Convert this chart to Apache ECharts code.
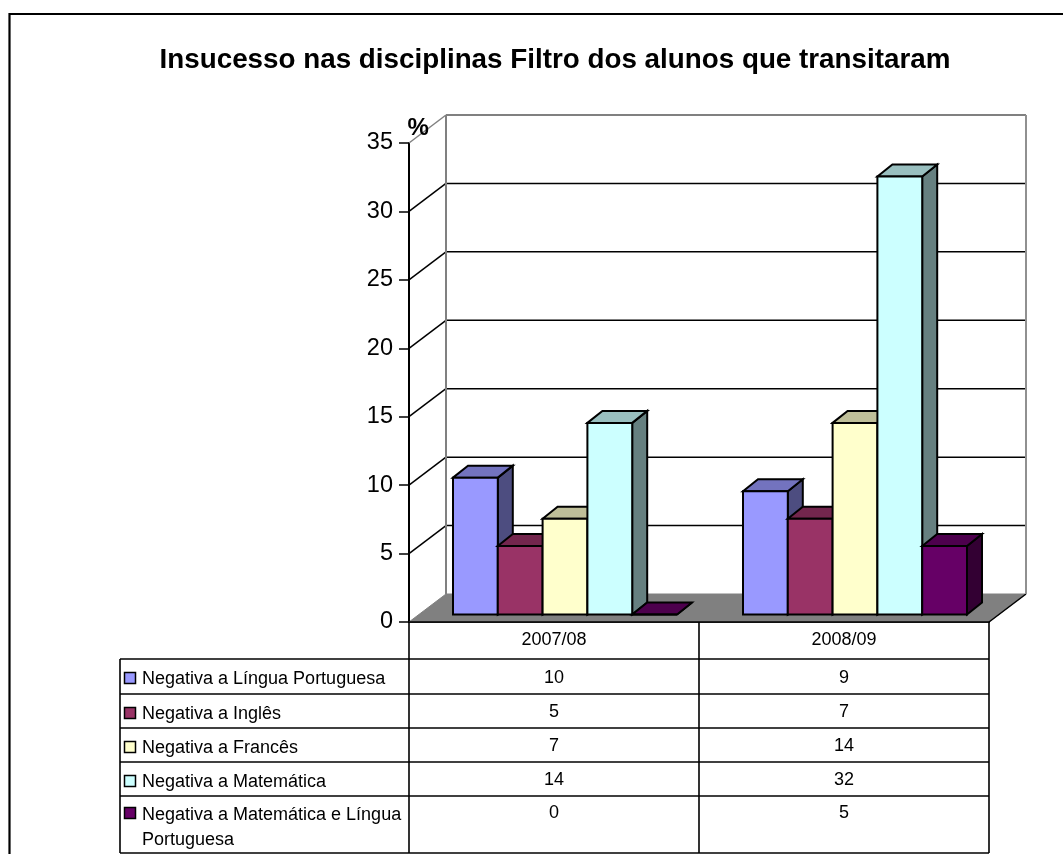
<!DOCTYPE html>
<html><head><meta charset="utf-8">
<script src="https://cdn.jsdelivr.net/npm/echarts@6/dist/echarts.min.js"></script>
<style>html,body{margin:0;padding:0;background:#fff}#c{width:1063px;height:854px}</style>
</head><body><div id="c"></div>
<script>
const titleText = 'Insucesso nas disciplinas Filtro dos alunos que transitaram';
const categories = ['2007/08', '2008/09'];
const seriesNames = ['Negativa a Língua Portuguesa', 'Negativa a Inglês', 'Negativa a Francês', 'Negativa a Matemática', 'Negativa a Matemática e Língua\nPortuguesa'];
const lingua = [10, 9];
const ingles = [5, 7];
const frances = [7, 14];
const matematica = [14, 32];
const matLingua = [0, 5];
const gridTicks = [0, 5, 10, 15, 20, 25, 30, 35];
const frontColors = ['#9999FF', '#993366', '#FFFFCC', '#CCFFFF', '#660066'];
const topColors = ['#7373BF', '#73264D', '#BFBF99', '#99BFBF', '#4D004D'];
const sideColors = ['#4D4D80', '#4D1A33', '#808066', '#668080', '#330033'];
const allValues = [lingua, ingles, frances, matematica, matLingua];

const FONT = '"Liberation Sans", Arial, sans-serif';
const WALL = [37, -28], DEPTH = [15, -12], INSET = [11, -7.5], BAR_W = 44.8;
const colX = [120, 409, 699, 989];
const rowY = [622, 659, 694, 728, 762, 796, 853];

function poly(points, fill, stroke, lw) {
  return { type: 'polygon', shape: { points }, style: { fill, stroke, lineWidth: lw, lineJoin: 'miter' } };
}
function line(x1, y1, x2, y2, stroke, lw) {
  return { type: 'line', shape: { x1, y1, x2, y2 }, style: { stroke, lineWidth: lw } };
}
function renderWall(params, api) {
  const v = api.value(0);
  const cs = params.coordSys;
  const y = api.coord([0, v])[1];
  const x0 = cs.x, x1 = cs.x + cs.width;
  const bx0 = x0 + WALL[0], bx1 = x1 + WALL[0], by = y + WALL[1];
  const kids = [];
  if (v === 0) {
    kids.push(poly([[x0, y], [bx0, by], [bx1, by], [x1, y]], '#808080', '#808080', 1));
    kids.push(line(x1, y, bx1, by, '#000', 1.5));
  } else {
    const isTop = v === gridTicks[gridTicks.length - 1];
    const c = isTop ? '#808080' : '#000';
    kids.push(line(x0, y, bx0, by, c, 1.5));
    kids.push(line(bx0, by, bx1, by, c, isTop ? 2 : 1.5));
  }
  return { type: 'group', children: kids };
}
function renderWallSides(params, api) {
  const cs = params.coordSys;
  const top = api.coord([0, api.value(0)])[1] + WALL[1];
  const bot = cs.y + cs.height + WALL[1];
  return { type: 'group', children: [
    line(cs.x + WALL[0], top, cs.x + WALL[0], bot, '#808080', 2),
    line(cs.x + cs.width + WALL[0], top, cs.x + cs.width + WALL[0], bot, '#909090', 2)
  ]};
}
function barRenderer(si) {
  return function (params, api) {
    const cat = api.value(0), val = api.value(1);
    const pt = api.coord([cat, val]), base = api.coord([cat, 0]);
    const x0 = pt[0] - 2.5 * BAR_W + si * BAR_W + INSET[0];
    const x1 = x0 + BAR_W;
    const yT = pt[1] + INSET[1], yB = base[1] + INSET[1];
    const dx = DEPTH[0], dy = DEPTH[1], lw = 2;
    return { type: 'group', children: [
      poly([[x1, yB], [x1 + dx, yB + dy], [x1 + dx, yT + dy], [x1, yT]], sideColors[si], '#000', lw),
      poly([[x0, yT], [x0 + dx, yT + dy], [x1 + dx, yT + dy], [x1, yT]], topColors[si], '#000', lw),
      poly([[x0, yT], [x1, yT], [x1, yB], [x0, yB]], frontColors[si], '#000', lw)
    ]};
  };
}

const tableEls = [];
const TABLE_FONT = '18px ' + FONT;
function tLine(x1, y1, x2, y2) {
  tableEls.push({ type: 'line', silent: true, z: 20, shape: { x1, y1, x2, y2 }, style: { stroke: '#000', lineWidth: 1.6 } });
}
function tText(x, y, text, align) {
  tableEls.push({ type: 'text', silent: true, z: 21, x, y, style: { text, fill: '#000', font: TABLE_FONT, align, verticalAlign: 'middle', lineHeight: 25 } });
}
tLine(colX[1], rowY[0], colX[3], rowY[0]);
for (let r = 1; r < rowY.length; r++) tLine(colX[0], rowY[r], colX[3], rowY[r]);
tLine(colX[0], rowY[1], colX[0], rowY[6]);
tLine(colX[1], rowY[0], colX[1], rowY[6]);
tLine(colX[2], rowY[0], colX[2], rowY[6]);
tLine(colX[3], rowY[0], colX[3], rowY[6]);
seriesNames.forEach((name, i) => {
  const last = i === seriesNames.length - 1;
  const cy = last ? 813.5 : (rowY[i + 1] + rowY[i + 2]) / 2;
  tableEls.push({ type: 'rect', silent: true, z: 21, shape: { x: 124.5, y: Math.round(last ? cy - 5.5 : cy - 3.5) - 0.5, width: 11, height: 11 }, style: { fill: frontColors[i], stroke: '#000', lineWidth: 1.5 } });
  tText(142, last ? 828 : cy + 3, name, 'left');
  const vy = last ? cy : cy + 1.5;
  tText((colX[1] + colX[2]) / 2, vy, String(allValues[i][0]), 'center');
  tText((colX[2] + colX[3]) / 2, vy, String(allValues[i][1]), 'center');
});
tableEls.push({ type: 'text', silent: true, z: 21, x: 407.5, y: 128, style: { text: '%', fill: '#000', font: 'bold 24px ' + FONT, align: 'left', verticalAlign: 'middle' } });
tableEls.push({ type: 'polyline', silent: true, z: 22, shape: { points: [[9.5, 854], [9.5, 14], [1063, 14]] }, style: { fill: 'none', stroke: '#000', lineWidth: 2.2 } });

const chart = echarts.init(document.getElementById('c'), null, { renderer: 'canvas' });
chart.setOption({
  animation: false,
  backgroundColor: '#fff',
  title: { text: titleText, left: 550, top: 41, textAlign: 'center', textStyle: { fontFamily: FONT, fontWeight: 'bold', fontSize: 27.8, color: '#000' } },
  grid: { left: 409, top: 143, width: 580, height: 479, containLabel: false },
  xAxis: { type: 'category', data: categories, axisLine: { lineStyle: { color: '#000', width: 2 } }, axisTick: { show: false }, axisLabel: { color: '#000', fontFamily: FONT, fontSize: 18, margin: 9 }, splitLine: { show: false } },
  yAxis: { type: 'value', min: 0, max: 35, interval: 5, axisLine: { show: true, lineStyle: { color: '#000', width: 2 } }, axisTick: { show: true, length: 10, lineStyle: { color: '#000', width: 1.5 } }, axisLabel: { color: '#000', fontFamily: FONT, fontSize: 23.5, margin: 16 }, splitLine: { show: false } },
  graphic: tableEls,
  series: [
    { type: 'custom', name: 'wall', coordinateSystem: 'cartesian2d', silent: true, clip: false, z: 1, renderItem: renderWall, data: gridTicks.map(v => [v]), encode: { y: 0 } },
    { type: 'custom', name: 'wallSides', coordinateSystem: 'cartesian2d', silent: true, clip: false, z: 1, renderItem: renderWallSides, data: [[gridTicks[gridTicks.length - 1]]], encode: { y: 0 } },
    ...seriesNames.map((n, si) => ({ type: 'custom', name: n, coordinateSystem: 'cartesian2d', clip: false, z: 3, renderItem: barRenderer(si), data: allValues[si].map((v, i) => [i, v]), encode: { x: 0, y: 1 } }))
  ]
});
</script></body></html>
